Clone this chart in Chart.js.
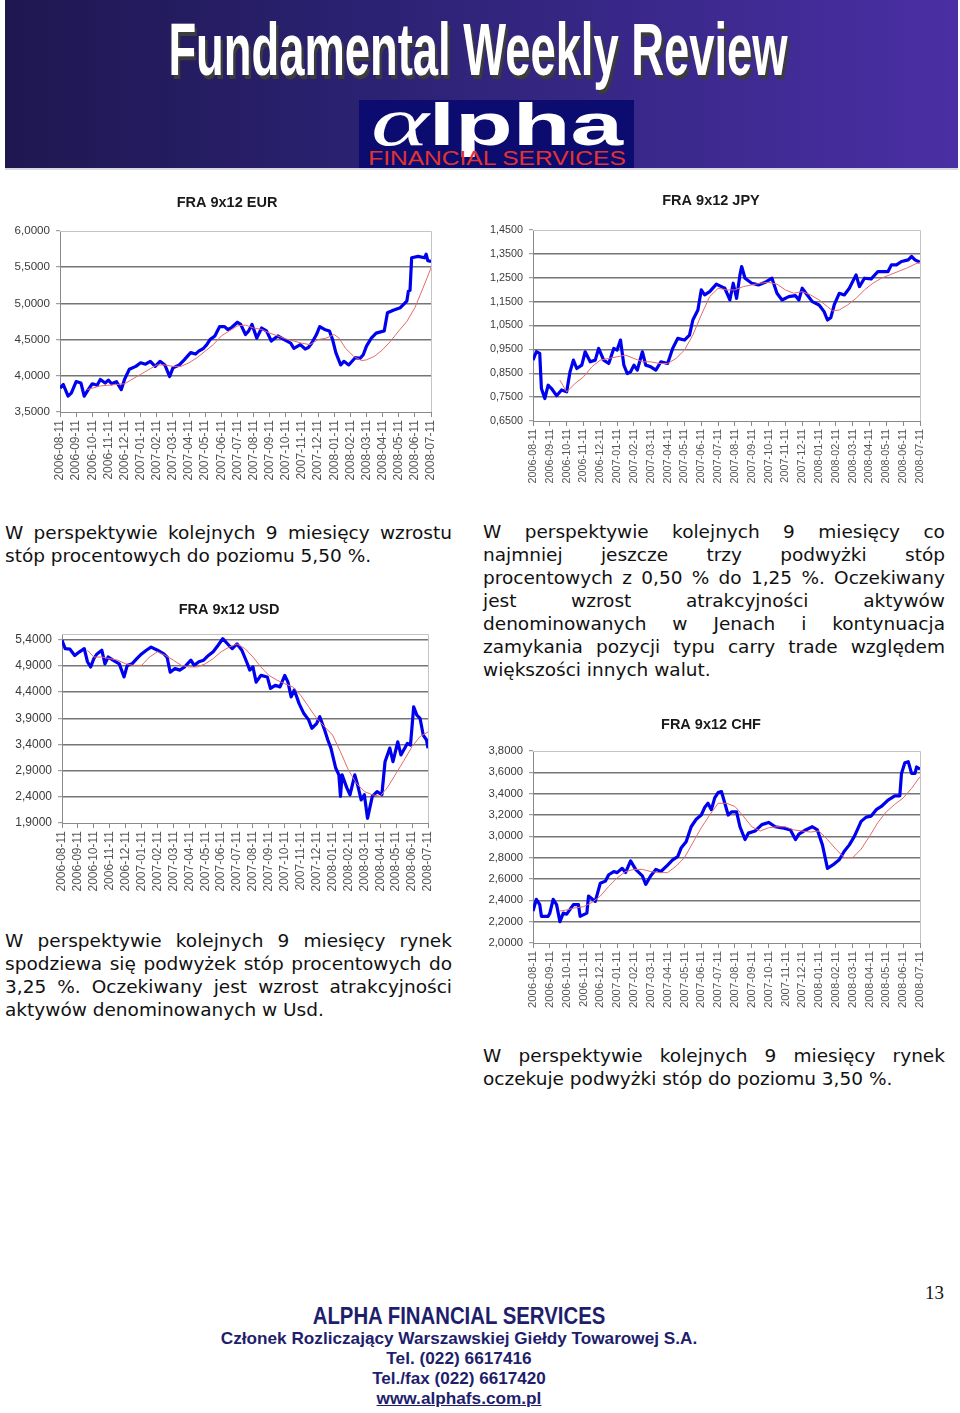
<!DOCTYPE html>
<html><head><meta charset="utf-8">
<script src="https://cdn.jsdelivr.net/npm/chart.js@4.4.0/dist/chart.umd.min.js"></script>
<style>
html,body{margin:0;padding:0;background:#fff;}
body{width:960px;height:1413px;position:relative;overflow:hidden;font-family:"Liberation Sans",Arial,sans-serif;}
#banner{position:absolute;left:5px;top:0;width:953px;height:168px;background:linear-gradient(90deg,#1e1750 0%,#2c2274 40%,#4a2fa4 100%);border-bottom:2px solid #d8d8e0;}
.fit{position:absolute;white-space:nowrap;transform-origin:50% 50%;}
#title{font-family:"Liberation Sans Narrow","Liberation Sans",Arial,sans-serif;font-weight:bold;font-size:74px;line-height:74px;color:#fff;text-shadow:4px 4px 0 #3c3c3c;top:13px;left:478px;}
#logo{position:absolute;left:359px;top:100px;width:275px;height:68px;background:#0b0b70;}
#alpha{color:#fff;font-family:"Liberation Sans",Arial,sans-serif;font-weight:bold;font-size:60px;line-height:60px;height:60px;top:95px;left:497px;}
#alpha i{font-family:"Liberation Serif","DejaVu Serif",serif;font-size:70px;line-height:0;font-weight:normal;}
#fin{color:#e2342f;font-family:"Liberation Sans Narrow","Liberation Sans",Arial,sans-serif;font-size:21px;line-height:21px;top:147px;left:497px;}
canvas{position:absolute;}
.para{position:absolute;font-family:"DejaVu Sans",Verdana,sans-serif;font-size:18.5px;line-height:23px;color:#111;}
.para .ln{display:flex;justify-content:space-between;white-space:nowrap;height:23px;}
.para .last{white-space:nowrap;height:23px;}
.foot{position:absolute;white-space:nowrap;color:#1e1e6c;font-weight:bold;font-family:"Liberation Sans Narrow","Liberation Sans",Arial,sans-serif;transform-origin:50% 50%;}
#pnum{position:absolute;left:920px;top:1282px;width:24px;text-align:right;font-family:"Liberation Serif","Times New Roman",serif;font-size:19px;line-height:22px;color:#111;}
</style>
</head>
<body>
<div id="banner"></div>
<div id="title" class="fit">Fundamental Weekly Review</div>
<div id="logo"></div>
<div id="alpha" class="fit"><i>α</i>lpha</div>
<div id="fin" class="fit">FINANCIAL SERVICES</div>

<canvas id="cEUR"></canvas>
<canvas id="cJPY"></canvas>
<canvas id="cUSD"></canvas>
<canvas id="cCHF"></canvas>

<div class="para" id="p1" style="left:5px;top:521px;width:447px;"></div>
<div class="para" id="p2" style="left:483px;top:520px;width:462px;"></div>
<div class="para" id="p3" style="left:5px;top:929px;width:447px;"></div>
<div class="para" id="p4" style="left:483px;top:1044px;width:462px;"></div>

<div id="pnum">13</div>
<div class="foot" id="f1" style="left:459px;top:1304px;font-size:23px;line-height:24px;">ALPHA FINANCIAL SERVICES</div>
<div class="foot" id="f2" style="left:459px;top:1329px;font-size:17px;line-height:19px;">Członek Rozliczający Warszawskiej Giełdy Towarowej S.A.</div>
<div class="foot" id="f3" style="left:459px;top:1349px;font-size:17px;line-height:19px;">Tel. (022) 6617416</div>
<div class="foot" id="f4" style="left:459px;top:1369px;font-size:17px;line-height:19px;">Tel./fax (022) 6617420</div>
<div class="foot" id="f5" style="left:459px;top:1389px;font-size:17px;line-height:19px;text-decoration:underline;">www.alphafs.com.pl</div>

<script>
// ---------- DATA ----------
const months = ['2006-08-11','2006-09-11','2006-10-11','2006-11-11','2006-12-11','2007-01-11','2007-02-11','2007-03-11','2007-04-11','2007-05-11','2007-06-11','2007-07-11','2007-08-11','2007-09-11','2007-10-11','2007-11-11','2007-12-11','2008-01-11','2008-02-11','2008-03-11','2008-04-11','2008-05-11','2008-06-11','2008-07-11'];

const eurTicks = [3.5,4.0,4.5,5.0,5.5,6.0];
const jpyTicks = [0.65,0.75,0.85,0.95,1.05,1.15,1.25,1.35,1.45];
const usdTicks = [1.9,2.4,2.9,3.4,3.9,4.4,4.9,5.4];
const chfTicks = [2.0,2.2,2.4,2.6,2.8,3.0,3.2,3.4,3.6,3.8];

// [month index, value]
const eurFra = [[0,3.83],[0.2,3.88],[0.5,3.72],[0.7,3.76],[1.0,3.92],[1.3,3.90],[1.5,3.72],[1.75,3.81],[2.0,3.89],[2.3,3.87],[2.5,3.95],[2.8,3.90],[3.0,3.94],[3.2,3.89],[3.5,3.92],[3.8,3.81],[4.0,3.95],[4.3,4.09],[4.7,4.13],[5.0,4.18],[5.3,4.16],[5.6,4.20],[5.9,4.13],[6.2,4.20],[6.5,4.15],[6.8,3.99],[7.0,4.11],[7.4,4.15],[7.7,4.22],[8.1,4.32],[8.4,4.30],[8.6,4.34],[8.9,4.38],[9.1,4.43],[9.3,4.50],[9.6,4.55],[9.9,4.68],[10.2,4.68],[10.4,4.64],[10.6,4.66],[11.0,4.74],[11.2,4.71],[11.5,4.57],[11.7,4.62],[11.9,4.71],[12.2,4.52],[12.5,4.66],[12.8,4.62],[13.1,4.48],[13.5,4.55],[13.9,4.50],[14.3,4.45],[14.5,4.38],[14.9,4.43],[15.2,4.37],[15.4,4.39],[15.6,4.45],[15.9,4.57],[16.1,4.68],[16.4,4.64],[16.7,4.62],[16.9,4.50],[17.1,4.32],[17.4,4.15],[17.6,4.20],[17.9,4.15],[18.3,4.25],[18.6,4.24],[18.8,4.29],[19.0,4.41],[19.3,4.52],[19.6,4.59],[20.1,4.62],[20.3,4.87],[20.7,4.91],[21.1,4.94],[21.5,5.03],[21.6,5.17],[21.7,5.18],[21.8,5.63],[22.2,5.65],[22.6,5.63],[22.7,5.68],[22.8,5.59],[23.0,5.58]];
const eurAvg = [[1.7,3.81],[2.5,3.86],[3.5,3.88],[4.0,3.89],[5.0,4.02],[6.0,4.15],[6.5,4.15],[7.0,4.13],[7.5,4.13],[8.0,4.18],[8.5,4.25],[9.0,4.34],[9.5,4.43],[10.0,4.55],[10.5,4.62],[11.0,4.69],[11.5,4.70],[12.0,4.66],[12.5,4.64],[13.0,4.59],[13.5,4.55],[14.0,4.51],[14.5,4.48],[15.0,4.45],[15.5,4.43],[16.0,4.50],[16.5,4.52],[17.0,4.57],[17.3,4.52],[17.7,4.38],[18.2,4.27],[18.7,4.21],[19.0,4.22],[19.5,4.27],[20.0,4.36],[20.5,4.48],[21.0,4.62],[21.5,4.75],[22.0,4.94],[22.5,5.21],[23.0,5.49]];

const jpyFra = [[0,0.905],[0.2,0.94],[0.4,0.933],[0.5,0.786],[0.7,0.744],[0.9,0.80],[1.1,0.786],[1.4,0.756],[1.7,0.78],[2.0,0.772],[2.2,0.856],[2.4,0.905],[2.6,0.87],[2.9,0.884],[3.1,0.94],[3.4,0.898],[3.7,0.905],[3.9,0.954],[4.2,0.905],[4.5,0.891],[4.8,0.954],[5.0,0.947],[5.2,0.989],[5.4,0.884],[5.6,0.849],[5.8,0.856],[6.0,0.884],[6.2,0.863],[6.5,0.94],[6.7,0.884],[7.0,0.877],[7.3,0.863],[7.6,0.898],[8.0,0.891],[8.3,0.954],[8.6,0.996],[9.0,0.989],[9.3,1.01],[9.5,1.073],[9.8,1.115],[10.0,1.199],[10.2,1.178],[10.5,1.192],[10.9,1.223],[11.2,1.213],[11.4,1.206],[11.7,1.157],[11.9,1.227],[12.1,1.164],[12.3,1.262],[12.4,1.297],[12.6,1.248],[13.0,1.227],[13.4,1.22],[13.8,1.231],[14.2,1.248],[14.5,1.185],[14.8,1.157],[15.2,1.171],[15.6,1.175],[15.8,1.157],[16.0,1.206],[16.3,1.178],[16.6,1.15],[17.0,1.136],[17.3,1.108],[17.5,1.073],[17.7,1.083],[17.9,1.136],[18.2,1.185],[18.5,1.178],[18.8,1.206],[19.2,1.262],[19.4,1.213],[19.7,1.248],[20.1,1.245],[20.5,1.276],[20.8,1.276],[21.1,1.276],[21.3,1.304],[21.6,1.304],[21.9,1.318],[22.3,1.325],[22.5,1.339],[22.7,1.325],[23.0,1.315]];
const jpyAvg = [[1.6,0.821],[2.0,0.772],[2.5,0.807],[3.0,0.835],[3.5,0.877],[4.0,0.905],[4.5,0.912],[5.0,0.919],[5.5,0.926],[6.0,0.912],[6.5,0.898],[7.0,0.898],[7.5,0.891],[8.0,0.891],[8.5,0.912],[9.0,0.947],[9.5,1.01],[10.0,1.094],[10.5,1.171],[11.0,1.206],[11.5,1.199],[12.0,1.199],[12.5,1.213],[13.0,1.22],[13.5,1.227],[14.0,1.231],[14.5,1.223],[15.0,1.199],[15.5,1.185],[16.0,1.192],[16.5,1.178],[17.0,1.157],[17.5,1.129],[17.8,1.111],[18.2,1.115],[18.7,1.136],[19.2,1.164],[19.7,1.199],[20.2,1.227],[20.7,1.248],[21.2,1.262],[21.7,1.276],[22.2,1.29],[22.7,1.307],[23.0,1.315]];

const usdFra = [[0,5.39],[0.2,5.23],[0.5,5.22],[0.8,5.10],[1.1,5.17],[1.4,5.23],[1.6,4.98],[1.8,4.88],[2.0,5.04],[2.2,5.13],[2.5,5.20],[2.7,4.94],[2.9,5.07],[3.2,5.01],[3.6,4.94],[3.9,4.69],[4.1,4.91],[4.4,4.94],[4.7,5.04],[5.0,5.13],[5.3,5.20],[5.6,5.26],[6.0,5.20],[6.4,5.13],[6.6,5.07],[6.8,4.78],[7.1,4.85],[7.4,4.82],[7.7,4.88],[8.1,5.01],[8.3,4.91],[8.6,4.98],[8.9,5.01],[9.2,5.10],[9.5,5.17],[9.8,5.29],[10.1,5.42],[10.5,5.29],[10.7,5.23],[11.0,5.32],[11.3,5.20],[11.6,4.98],[11.8,4.82],[12.0,4.88],[12.2,4.59],[12.5,4.72],[12.9,4.69],[13.1,4.47],[13.4,4.53],[13.7,4.50],[14.0,4.72],[14.2,4.59],[14.4,4.31],[14.6,4.44],[14.9,4.18],[15.2,3.99],[15.5,3.87],[15.7,3.71],[16.0,3.80],[16.2,3.93],[16.5,3.68],[16.7,3.49],[16.9,3.33],[17.2,2.95],[17.4,2.82],[17.5,2.41],[17.6,2.82],[17.9,2.57],[18.1,2.44],[18.4,2.82],[18.6,2.60],[18.8,2.34],[19.0,2.44],[19.2,1.99],[19.5,2.41],[19.8,2.50],[20.1,2.44],[20.3,3.07],[20.6,3.33],[20.8,3.07],[21.1,3.45],[21.3,3.20],[21.7,3.42],[21.9,3.39],[22.1,4.12],[22.3,3.96],[22.5,3.90],[22.7,3.58],[22.9,3.49],[23.0,3.33]];
const usdAvg = [[1.6,5.20],[2.0,5.07],[2.5,5.07],[3.0,5.04],[3.5,5.01],[4.0,4.94],[4.5,4.91],[5.0,4.91],[5.5,5.07],[6.0,5.17],[6.5,5.10],[7.0,5.01],[7.5,4.91],[8.0,4.88],[8.5,4.88],[9.0,4.94],[9.5,5.04],[10.0,5.17],[10.5,5.26],[11.0,5.32],[11.5,5.23],[12.0,5.07],[12.5,4.88],[13.0,4.72],[13.5,4.63],[14.0,4.56],[14.5,4.50],[15.0,4.34],[15.5,4.12],[16.0,3.90],[16.5,3.74],[17.0,3.58],[17.5,3.26],[18.0,2.91],[18.5,2.66],[19.0,2.50],[19.5,2.44],[20.0,2.41],[20.5,2.60],[21.0,2.85],[21.5,3.10],[22.0,3.36],[22.5,3.55],[23.0,3.64]];

const chfFra = [[0,2.30],[0.2,2.41],[0.4,2.36],[0.5,2.25],[0.9,2.25],[1.0,2.28],[1.2,2.41],[1.4,2.36],[1.6,2.20],[1.8,2.28],[2.0,2.27],[2.4,2.36],[2.7,2.36],[2.8,2.25],[3.2,2.28],[3.3,2.44],[3.7,2.39],[4.0,2.56],[4.3,2.58],[4.5,2.64],[4.8,2.67],[5.0,2.66],[5.3,2.70],[5.5,2.66],[5.8,2.77],[6.1,2.69],[6.5,2.63],[6.7,2.55],[7.0,2.63],[7.3,2.69],[7.6,2.67],[8.0,2.73],[8.3,2.78],[8.6,2.81],[8.8,2.89],[9.1,2.95],[9.4,3.09],[9.7,3.16],[10.0,3.20],[10.2,3.27],[10.4,3.31],[10.6,3.25],[10.8,3.36],[11.0,3.41],[11.2,3.42],[11.4,3.31],[11.6,3.20],[11.8,3.23],[12.1,3.23],[12.3,3.09],[12.6,2.97],[12.8,3.03],[13.2,3.05],[13.6,3.11],[14.0,3.13],[14.4,3.09],[14.8,3.08],[15.3,3.06],[15.6,2.97],[15.8,3.02],[16.2,3.06],[16.6,3.09],[16.9,3.06],[17.2,2.92],[17.5,2.70],[17.8,2.73],[18.2,2.78],[18.5,2.86],[18.8,2.92],[19.1,3.00],[19.5,3.14],[19.8,3.18],[20.1,3.19],[20.4,3.25],[20.7,3.28],[21.1,3.34],[21.5,3.38],[21.8,3.38],[21.9,3.59],[22.1,3.69],[22.3,3.70],[22.5,3.59],[22.7,3.59],[22.8,3.65],[23.0,3.63]];
const chfAvg = [[1.6,2.30],[2.0,2.31],[2.5,2.33],[3.0,2.34],[3.5,2.38],[4.0,2.44],[4.5,2.53],[5.0,2.61],[5.5,2.67],[6.0,2.69],[6.5,2.69],[7.0,2.67],[7.5,2.66],[8.0,2.66],[8.5,2.72],[9.0,2.80],[9.5,2.94],[10.0,3.08],[10.5,3.20],[11.0,3.31],[11.5,3.31],[12.0,3.28],[12.5,3.19],[13.0,3.09],[13.5,3.05],[14.0,3.08],[14.5,3.09],[15.0,3.09],[15.5,3.06],[16.0,3.05],[16.5,3.04],[17.0,3.05],[17.5,2.97],[18.0,2.88],[18.5,2.80],[19.0,2.80],[19.5,2.88],[20.0,3.00],[20.5,3.13],[21.0,3.23],[21.5,3.30],[22.0,3.36],[22.5,3.45],[23.0,3.56]];

// ---------- TEXT ----------
const para1 = [['W perspektywie kolejnych 9 miesięcy wzrostu', true], ['stóp procentowych do poziomu 5,50 %.', false]];
const para2 = [['W perspektywie kolejnych 9 miesięcy co', true], ['najmniej jeszcze trzy podwyżki stóp', true], ['procentowych z 0,50 % do 1,25 %. Oczekiwany', true], ['jest wzrost atrakcyjności aktywów', true], ['denominowanych w Jenach i kontynuacja', true], ['zamykania pozycji typu carry trade względem', true], ['większości innych walut.', false]];
const para3 = [['W perspektywie kolejnych 9 miesięcy rynek', true], ['spodziewa się podwyżek stóp procentowych do', true], ['3,25 %. Oczekiwany jest wzrost atrakcyjności', true], ['aktywów denominowanych w Usd.', false]];
const para4 = [['W perspektywie kolejnych 9 miesięcy rynek', true], ['oczekuje podwyżki stóp do poziomu 3,50 %.', false]];

function fillPara(id, lines) {
  const el = document.getElementById(id);
  lines.forEach(([txt, just]) => {
    const d = document.createElement('div');
    if (just) {
      d.className = 'ln';
      txt.split(' ').forEach(w => { const s = document.createElement('span'); s.textContent = w; d.appendChild(s); });
    } else { d.className = 'last'; d.textContent = txt; }
    el.appendChild(d);
  });
}
fillPara('p1', para1); fillPara('p2', para2); fillPara('p3', para3); fillPara('p4', para4);

function fit(id, w) {
  const el = document.getElementById(id);
  const ow = el.offsetWidth;
  el.style.transform = 'translateX(-50%) scaleX(' + (w / ow) + ')';
}
fit('title', 619); fit('alpha', 252); fit('fin', 258);
fit('f1', 293); fit('f2', 476); fit('f3', 145); fit('f4', 174); fit('f5', 165);

// ---------- CHARTS ----------
const framePlugin = {
  id: 'frame',
  beforeDatasetsDraw(chart) {
    const {ctx, chartArea: a} = chart;
    ctx.save();
    ctx.strokeStyle = '#c4c4c4'; ctx.lineWidth = 1;
    ctx.beginPath();
    ctx.moveTo(a.left, a.top + 0.5); ctx.lineTo(a.right + 0.5, a.top + 0.5); ctx.lineTo(a.right + 0.5, a.bottom);
    ctx.stroke();
    ctx.restore();
  },
  afterDraw(chart, args, opts) {
    const ctx = chart.ctx;
    ctx.save();
    ctx.font = 'bold 14.5px "Liberation Sans", Arial, sans-serif';
    ctx.fillStyle = '#1a1a1a'; ctx.textAlign = 'center'; ctx.textBaseline = 'middle';
    ctx.fillText(opts.text, opts.x, opts.y);
    ctx.restore();
  }
};

function makeChart(c) {
  const cv = document.getElementById(c.id);
  cv.width = c.w; cv.height = c.h;
  cv.style.left = c.left + 'px'; cv.style.top = c.top + 'px';
  cv.style.width = c.w + 'px'; cv.style.height = c.h + 'px';
  const lo = c.ticks[0], hi = c.max;
  new Chart(cv.getContext('2d'), {
    type: 'line',
    data: { datasets: [
      { data: c.avg.map(p => ({x: p[0], y: p[1]})), borderColor: '#e46a6a', borderWidth: 1, pointRadius: 0, tension: 0, order: 0 },
      { data: c.fra.map(p => ({x: p[0], y: p[1]})), borderColor: '#0000f0', borderWidth: 3.2, pointRadius: 0, tension: 0, borderJoinStyle: 'round', order: 1 }
    ]},
    options: {
      responsive: false, animation: false, devicePixelRatio: 1,
      layout: { padding: { top: c.padTop, right: c.padRight, left: 0, bottom: 0 } },
      plugins: { legend: { display: false }, tooltip: { enabled: false }, title: { display: false },
        frame: { text: c.title, x: c.tx, y: c.ty } },
      scales: {
        x: {
          type: 'linear', min: 0, max: months.length - 1,
          afterBuildTicks: s => { s.ticks = months.map((m, i) => ({ value: i })); },
          afterFit: s => { s.height = c.xh; },
          ticks: { autoSkip: false, minRotation: 90, maxRotation: 90, padding: 3, color: '#555',
            font: { size: c.xf, family: '"Liberation Sans", Arial, sans-serif' }, callback: (v, i) => months[i] },
          grid: { drawOnChartArea: false, drawTicks: true, tickLength: 5, tickColor: '#8a8a8a' },
          border: { display: true, color: '#8a8a8a', width: 1 }
        },
        y: {
          min: lo, max: hi,
          afterBuildTicks: s => { s.ticks = c.ticks.map(v => ({ value: v })); },
          afterFit: s => { s.width = c.yw; },
          ticks: { padding: 6, color: '#3a3a3a', font: { size: c.yf, family: '"Liberation Sans", Arial, sans-serif' },
            callback: v => Number(v).toFixed(4).replace('.', ',') },
          grid: { color: g => (g.tick && (Math.abs(g.tick.value - lo) < 1e-9 || Math.abs(g.tick.value - hi) < 1e-9)) ? 'rgba(0,0,0,0)' : '#757575',
            lineWidth: 1.4, tickLength: 4, tickColor: '#8a8a8a', tickWidth: 1 },
          border: { display: true, color: '#8a8a8a', width: 1 }
        }
      }
    },
    plugins: [framePlugin]
  });
}

makeChart({ id: 'cEUR', left: 0, top: 185, w: 454, h: 310, padTop: 46, padRight: 23, yw: 60, xh: 83, xf: 12, yf: 11.6,
  title: 'FRA 9x12 EUR', tx: 227, ty: 18, ticks: eurTicks, max: 6.0, fra: eurFra, avg: eurAvg });
makeChart({ id: 'cJPY', left: 480, top: 185, w: 462, h: 310, padTop: 45, padRight: 22, yw: 53, xh: 74, xf: 10.8, yf: 10.8,
  title: 'FRA 9x12 JPY', tx: 231, ty: 16, ticks: jpyTicks, max: 1.45, fra: jpyFra, avg: jpyAvg });
makeChart({ id: 'cUSD', left: 0, top: 595, w: 458, h: 305, padTop: 39, padRight: 30, yw: 62, xh: 77, xf: 12, yf: 12,
  title: 'FRA 9x12 USD', tx: 229, ty: 15, ticks: usdTicks, max: 5.51, fra: usdFra, avg: usdAvg });
makeChart({ id: 'cCHF', left: 480, top: 705, w: 462, h: 310, padTop: 46, padRight: 22, yw: 53, xh: 72, xf: 11.3, yf: 11.3,
  title: 'FRA 9x12 CHF', tx: 231, ty: 20, ticks: chfTicks, max: 3.8, fra: chfFra, avg: chfAvg });
</script>
</body></html>
